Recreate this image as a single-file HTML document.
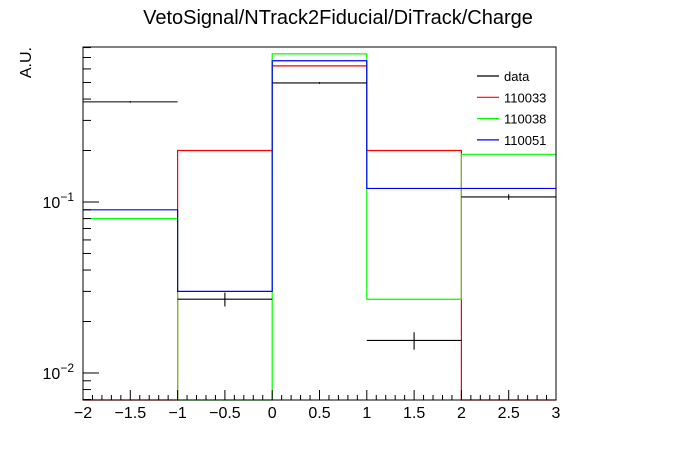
<!DOCTYPE html>
<html><head><meta charset="utf-8"><style>
body{margin:0;background:#fff}
svg{display:block;font-family:"Liberation Sans",sans-serif}
</style></head><body>
<svg id="c" width="696" height="472" xmlns="http://www.w3.org/2000/svg">
<rect width="696" height="472" fill="#fff"/>
<text x="338" y="24" font-size="20" text-anchor="middle">VetoSignal/NTrack2Fiducial/DiTrack/Charge</text>
<text transform="translate(31,47) rotate(-90)" font-size="16" text-anchor="end">A.U.</text>
</svg>
<script>
const binEdges=[-2,-1,0,1,2,3];
const dataVals=[0.385,0.027,0.497,0.0155,0.107];
const dataErrs=[0.004,0.0025,0.006,0.0018,0.004];
const s110033=[0,0.2,0.625,0.2,0];
const s110038=[0.08,0,0.735,0.027,0.19];
const s110051=[0.09,0.030,0.67,0.12,0.12];
const xTicks=[-2,-1.5,-1,-0.5,0,0.5,1,1.5,2,2.5,3];
const xTickLabels=["\u22122","\u22121.5","\u22121","\u22120.5","0","0.5","1","1.5","2","2.5","3"];
const series=[{name:"110033",vals:s110033,color:"#ff0000"},{name:"110038",vals:s110038,color:"#00ff00"},{name:"110051",vals:s110051,color:"#0000ff"}];

const svg=document.getElementById('c');
const NS="http://www.w3.org/2000/svg";
const L=83,R=556,T=47,B=400;
const xmin=-2,xmax=3,lymin=-2.158,lymax=-0.0936;
const X=v=>L+(v-xmin)/(xmax-xmin)*(R-L);
const Y=v=>{if(v<=0)return B;let y=B-(Math.log10(v)-lymin)/(lymax-lymin)*(B-T);return Math.max(T,Math.min(B,y));};
function mk(tag,attrs,parent){const e=document.createElementNS(NS,tag);for(const k in attrs)e.setAttribute(k,attrs[k]);(parent||svg).appendChild(e);return e;}

series.forEach(s=>{
  let d="M"+X(binEdges[0])+","+Y(s.vals[0]);
  for(let i=0;i<s.vals.length;i++){
    if(i>0)d+=" L"+X(binEdges[i])+","+Y(s.vals[i]);
    d+=" L"+X(binEdges[i+1])+","+Y(s.vals[i]);
  }
  const p=mk('path',{d:d,fill:"none",stroke:s.color,"stroke-width":1.2});
  
  
});
dataVals.forEach((v,i)=>{
  const g=mk('g',{});
  
  
  const y=Y(v),xc=X((binEdges[i]+binEdges[i+1])/2);
  mk('line',{x1:X(binEdges[i]),x2:X(binEdges[i+1]),y1:y,y2:y,stroke:"#000","stroke-width":1.1},g);
  mk('line',{x1:xc,x2:xc,y1:Y(v+dataErrs[i]),y2:Y(v-dataErrs[i]),stroke:"#000","stroke-width":1.1},g);
});
const fr=mk('rect',{x:L,y:T,width:R-L,height:B-T,fill:"none",stroke:"#000","stroke-width":1});


const xa=mk('g',{});


for(let k=0;k<=50;k++){
  const v=xmin+k*0.1,x=X(v),major=k%5==0;
  mk('line',{x1:x,x2:x,y1:B,y2:B-(major?10:5),stroke:"#000","stroke-width":1},xa);
}
xTicks.forEach((v,i)=>{
  const t=mk('text',{x:X(v),y:B+18,"font-size":16,"text-anchor":"middle"},xa);
  t.textContent=xTickLabels[i];
});
const ya=mk('g',{});


for(let e=-3;e<=0;e++){
  for(let m=1;m<=9;m++){
    const v=m*Math.pow(10,e);const lv=Math.log10(v);
    if(lv<lymin||lv>lymax)continue;
    const y=Y(v);
    mk('line',{x1:L,x2:L+(m==1?16:8),y1:y,y2:y,stroke:"#000","stroke-width":1},ya);
  }
}
[-1,-2].forEach(e=>{
  const t=mk('text',{x:L-9,y:Y(Math.pow(10,e))+6,"font-size":16,"text-anchor":"end"},ya);
  t.innerHTML='10<tspan dy="-7" font-size="12">\u2212'+(-e)+'</tspan>';
});
const lg=mk('g',{});


const ents=[{name:"data",color:"#000"}].concat(series);
ents.forEach((s,i)=>{
  const y=76+i*21.3;
  const e=mk('g',{},lg);
  
  
  mk('line',{x1:477,x2:499,y1:y,y2:y,stroke:s.color,"stroke-width":1.2},e);
  const t=mk('text',{x:504,y:y+5,"font-size":13},e);t.textContent=s.name;
});
</script>
</body></html>
